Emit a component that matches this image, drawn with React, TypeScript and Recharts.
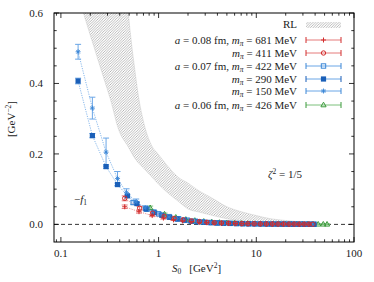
import React from "react";
import { ComposedChart, Line, Area, XAxis, YAxis, ReferenceLine, ErrorBar } from "recharts";

// RL band (hatched): lower and upper edge
const bandS0 = [0.17, 0.2, 0.24, 0.28, 0.32, 0.39, 0.49, 0.57, 0.62, 0.7, 0.85, 1.0, 1.2, 1.6, 2.0, 2.6, 3.5, 5.0, 7, 10, 14, 20, 28];
const bandLow = [0.6, 0.537, 0.467, 0.408, 0.357, 0.269, 0.22, 0.188, 0.175, 0.16, 0.135, 0.114, 0.093, 0.065, 0.044, 0.035, 0.026, 0.016, 0.01, 0.005, 0.002, 0.001, 0.0005];
const bandHigh = [2.5, 2.2, 1.9, 1.6, 1.35, 1.0, 0.6, 0.44, 0.366, 0.292, 0.223, 0.198, 0.17, 0.133, 0.117, 0.095, 0.075, 0.05, 0.036, 0.025, 0.016, 0.011, 0.007];

// a = 0.08 fm, m_pi = 681 MeV
const s681 = [0.45, 0.63, 0.86, 1.12, 1.42, 1.76, 2.15, 2.6, 3.1, 3.7, 4.4, 5.2, 6.1, 7.1, 8.2, 9.5, 11, 12.7, 14.6, 16.7, 19, 21.6, 24.4, 27.5, 30.9, 34.6];
const f681 = [0.05, 0.036, 0.025, 0.018, 0.013, 0.01, 0.008, 0.006, 0.005, 0.004, 0.0035, 0.003, 0.0025, 0.002, 0.002, 0.0015, 0.0015, 0.0012, 0.001, 0.001, 0.0008, 0.0008, 0.0007, 0.0006, 0.0006, 0.0005];
const e681 = [0.005, 0.004, 0.003, 0.003, 0.002, 0.002, 0.002, 0.0015, 0.0015, 0.001, 0.001, 0.001, 0.001, 0.001, 0.001, 0.001, 0.001, 0.001, 0.001, 0.001, 0.001, 0.001, 0.001, 0.001, 0.001, 0.001];

// m_pi = 411 MeV
const s411 = [0.45, 0.64, 0.87, 1.14, 1.44, 1.78, 2.17, 2.62, 3.12, 3.72, 4.4, 5.2, 6.1, 7.1, 8.2, 9.5, 11, 12.7, 14.6, 16.7, 19, 21.6, 24.4, 27.5, 30.9, 34.6, 38];
const f411 = [0.074, 0.046, 0.032, 0.023, 0.017, 0.013, 0.01, 0.008, 0.006, 0.005, 0.004, 0.0035, 0.003, 0.0025, 0.002, 0.002, 0.0015, 0.0013, 0.0012, 0.001, 0.001, 0.0008, 0.0008, 0.0007, 0.0006, 0.0006, 0.0005];
const e411 = [0.007, 0.005, 0.004, 0.003, 0.002, 0.002, 0.002, 0.0015, 0.0015, 0.001, 0.001, 0.001, 0.001, 0.001, 0.001, 0.001, 0.001, 0.001, 0.001, 0.001, 0.001, 0.001, 0.001, 0.001, 0.001, 0.001, 0.001];

// a = 0.07 fm, m_pi = 422 MeV
const s422 = [0.55, 0.76, 1.0, 1.28, 1.6, 1.96, 2.37, 2.83, 3.35, 3.95, 4.6, 5.4, 6.3, 7.3, 8.4, 9.7, 11.2, 12.9, 14.8, 16.9, 19.2, 21.8, 24.6, 27.7, 31, 34.8, 38.8];
const f422 = [0.062, 0.043, 0.03, 0.022, 0.016, 0.012, 0.009, 0.007, 0.0055, 0.0045, 0.0037, 0.003, 0.0025, 0.002, 0.0018, 0.0015, 0.0013, 0.0011, 0.001, 0.0009, 0.0008, 0.0007, 0.0006, 0.0006, 0.0005, 0.0005, 0.0004];
const e422 = [0.005, 0.004, 0.003, 0.002, 0.002, 0.002, 0.0015, 0.0015, 0.001, 0.001, 0.001, 0.001, 0.001, 0.001, 0.001, 0.001, 0.001, 0.001, 0.001, 0.001, 0.001, 0.001, 0.001, 0.001, 0.001, 0.001, 0.001];

// m_pi = 290 MeV
const s290 = [0.15, 0.21, 0.29, 0.38, 0.48, 0.6, 0.74, 0.9, 1.08, 1.3, 1.55, 1.83, 2.15, 2.52, 2.95, 3.45, 4.0, 4.65, 5.4, 6.25, 7.2, 8.3, 9.5, 10.9, 12.5, 14.3, 16.3, 18.6, 21.2, 24, 27.2, 30.7, 34.6, 38.9];
const f290 = [0.407, 0.252, 0.164, 0.113, 0.081, 0.059, 0.044, 0.034, 0.026, 0.02, 0.015, 0.012, 0.009, 0.0072, 0.0058, 0.0047, 0.0038, 0.0032, 0.0027, 0.0023, 0.002, 0.0017, 0.0015, 0.0013, 0.0012, 0.001, 0.0009, 0.0008, 0.0007, 0.0006, 0.0006, 0.0005, 0.0005, 0.0004];
const e290 = [0.008, 0.006, 0.005, 0.004, 0.003, 0.003, 0.002, 0.002, 0.002, 0.0015, 0.0015, 0.001, 0.001, 0.001, 0.001, 0.001, 0.001, 0.001, 0.001, 0.001, 0.001, 0.001, 0.001, 0.001, 0.001, 0.001, 0.001, 0.001, 0.001, 0.001, 0.001, 0.001, 0.001, 0.001];

// m_pi = 150 MeV
const s150 = [0.15, 0.21, 0.29, 0.38, 0.47, 0.59, 0.73, 0.89, 1.07, 1.28, 1.52, 1.8, 2.12, 2.48, 2.9, 3.4, 3.95, 4.6, 5.35, 6.2, 7.2, 8.3, 9.6, 11.1, 12.8, 14.7, 16.9, 19.4, 22.2, 25.4, 29, 33, 37.5];
const f150 = [0.49, 0.33, 0.205, 0.13, 0.09, 0.064, 0.047, 0.036, 0.027, 0.021, 0.016, 0.012, 0.0095, 0.0075, 0.006, 0.005, 0.004, 0.0033, 0.0028, 0.0024, 0.002, 0.0017, 0.0015, 0.0013, 0.0012, 0.001, 0.0009, 0.0008, 0.0007, 0.0006, 0.0006, 0.0005, 0.0005];
const e150 = [0.021, 0.031, 0.04, 0.02, 0.011, 0.008, 0.006, 0.005, 0.004, 0.003, 0.003, 0.002, 0.002, 0.002, 0.0015, 0.0015, 0.001, 0.001, 0.001, 0.001, 0.001, 0.001, 0.001, 0.001, 0.001, 0.001, 0.001, 0.001, 0.001, 0.001, 0.001, 0.001, 0.001];

// a = 0.06 fm, m_pi = 426 MeV
const s426 = [0.82, 1.15, 1.5, 1.9, 2.35, 2.9, 3.5, 4.2, 5.0, 5.95, 7.0, 8.2, 9.6, 11.2, 13, 15, 17.3, 19.9, 22.8, 26, 29.6, 33.6, 38, 43, 48.5, 53];
const f426 = [0.047, 0.029, 0.02, 0.014, 0.011, 0.0085, 0.0067, 0.0053, 0.0043, 0.0035, 0.0029, 0.0024, 0.002, 0.0017, 0.0014, 0.0012, 0.001, 0.0009, 0.0008, 0.0007, 0.0006, 0.0005, 0.0005, 0.0004, 0.0004, 0.0003];
const e426 = [0.005, 0.003, 0.002, 0.002, 0.0015, 0.0015, 0.001, 0.001, 0.001, 0.001, 0.001, 0.001, 0.001, 0.001, 0.001, 0.001, 0.001, 0.001, 0.001, 0.001, 0.001, 0.001, 0.001, 0.001, 0.001, 0.001];

const xMajor = [0.1, 1, 10, 100];
const xTicks = [0.09, 0.1, 0.2, 0.3, 0.4, 0.5, 0.6, 0.7, 0.8, 0.9, 1, 2, 3, 4, 5, 6, 7, 8, 9, 10, 20, 30, 40, 50, 60, 70, 80, 90, 100];
const yMajor = [0, 0.2, 0.4, 0.6];
const yTicks = [0, 0.05, 0.1, 0.15, 0.2, 0.25, 0.3, 0.35, 0.4, 0.45, 0.5, 0.55, 0.6];

const FONT = "'Liberation Serif', 'DejaVu Serif', serif";
const W = 374;
const H = 282;
const PL = 54;
const PR = 354;
const PT = 13;
const PB = 242;

const RED = "#d22c2c";
const RED_L = "#e57a7a";
const BLUE = "#1a5fb8";
const BLUE2 = "#3a86d6";
const BLUE_L = "#6aa6e6";
const GREEN = "#3b9a3b";
const GREEN_L = "#7cc07c";

const rows = (s: number[], f: number[], e: number[]) => s.map((x, i) => ({ s: x, v: f[i], e: e[i] }));
const bandData = bandS0.map((x, i) => ({ s: x, range: [bandLow[i], bandHigh[i]] }));

function Mark({ cx, cy, shape, color }: any) {
  if (cx == null || cy == null || isNaN(cx) || isNaN(cy)) return null;
  const r = 2.5;
  if (shape === "plus")
    return <path d={`M${cx - r},${cy}H${cx + r}M${cx},${cy - r}V${cy + r}`} stroke={color} strokeWidth={1} fill="none" />;
  if (shape === "circle") return <circle cx={cx} cy={cy} r={2.2} fill="none" stroke={color} strokeWidth={1} />;
  if (shape === "square")
    return <rect x={cx - 2.2} y={cy - 2.2} width={4.4} height={4.4} fill="none" stroke={color} strokeWidth={1} />;
  if (shape === "fsquare") return <rect x={cx - 2.6} y={cy - 2.6} width={5.2} height={5.2} fill={color} />;
  if (shape === "star")
    return (
      <path
        d={`M${cx - r},${cy}H${cx + r}M${cx},${cy - r}V${cy + r}M${cx - 1.8},${cy - 1.8}L${cx + 1.8},${cy + 1.8}M${cx - 1.8},${cy + 1.8}L${cx + 1.8},${cy - 1.8}`}
        stroke={color}
        strokeWidth={0.9}
        fill="none"
      />
    );
  return (
    <path d={`M${cx},${cy - 2.8}L${cx + 2.6},${cy + 1.8}L${cx - 2.6},${cy + 1.8}Z`} fill="none" stroke={color} strokeWidth={1} />
  );
}

function XTick(props: any) {
  const { x, y, payload } = props;
  const major = xMajor.some((m) => Math.abs(m - payload.value) < 1e-9);
  const len = major ? 5 : 2.7;
  return (
    <g>
      <line x1={x} y1={y} x2={x} y2={y - len} stroke="#000" strokeWidth={0.8} />
      <line x1={x} y1={PT} x2={x} y2={PT + len} stroke="#000" strokeWidth={0.8} />
      {major && (
        <text x={x} y={y + 15} textAnchor="middle" fontSize={11} fontFamily={FONT} fill="#222">
          {String(payload.value)}
        </text>
      )}
    </g>
  );
}

function YTick(props: any) {
  const { x, y, payload } = props;
  const major = yMajor.some((m) => Math.abs(m - payload.value) < 1e-9);
  const len = major ? 5 : 2.7;
  return (
    <g>
      <line x1={x} y1={y} x2={x + len} y2={y} stroke="#000" strokeWidth={0.8} />
      <line x1={PR} y1={y} x2={PR - len} y2={y} stroke="#000" strokeWidth={0.8} />
      {major && (
        <text x={43} y={y + 4} textAnchor="end" fontSize={11} fontFamily={FONT} fill="#222">
          {payload.value.toFixed(1)}
        </text>
      )}
    </g>
  );
}

const series = [
  { key: "426", data: rows(s426, f426, e426), shape: "triangle", color: GREEN, light: GREEN_L },
  { key: "422", data: rows(s422, f422, e422), shape: "square", color: BLUE2, light: BLUE_L },
  { key: "290", data: rows(s290, f290, e290), shape: "fsquare", color: BLUE, light: BLUE_L },
  { key: "150", data: rows(s150, f150, e150), shape: "star", color: BLUE2, light: BLUE_L },
  { key: "411", data: rows(s411, f411, e411), shape: "circle", color: RED, light: RED_L },
  { key: "681", data: rows(s681, f681, e681), shape: "plus", color: RED, light: RED_L },
];

function Pi() {
  return (
    <>
      <tspan fontStyle="italic">m</tspan>
      <tspan fontSize={7.5} fontStyle="italic" dy={2}>π</tspan>
      <tspan dy={-2}> </tspan>
    </>
  );
}

const legendRows: { y: number; a?: string; mev: string; shape: string; color: string; light: string }[] = [
  { y: 40, a: "0.08", mev: "681", shape: "plus", color: RED, light: RED_L },
  { y: 53, mev: "411", shape: "circle", color: RED, light: RED_L },
  { y: 66, a: "0.07", mev: "422", shape: "square", color: BLUE2, light: BLUE_L },
  { y: 79, mev: "290", shape: "fsquare", color: BLUE, light: BLUE_L },
  { y: 91, mev: "150", shape: "star", color: BLUE2, light: BLUE_L },
  { y: 105, a: "0.06", mev: "426", shape: "triangle", color: GREEN, light: GREEN_L },
];

export default function App() {
  return (
    <div style={{ position: "fixed", left: 0, top: 0, width: W, height: H, background: "#fff" }}>
      <svg width={0} height={0} style={{ position: "absolute" }}>
        <defs>
          <pattern id="rlHatch" patternUnits="userSpaceOnUse" width={2.6} height={2.6}>
            <rect width={2.6} height={2.6} fill="#fff" />
            <path d="M-1,1 l2,-2 M0,2.6 l2.6,-2.6 M1.6,3.6 l2,-2" stroke="#969696" strokeWidth={0.65} />
          </pattern>
        </defs>
      </svg>
      <ComposedChart width={W} height={H} margin={{ top: PT, right: W - PR, bottom: 0, left: 0 }}>
        <XAxis
          type="number"
          dataKey="s"
          scale="log"
          domain={[0.085, 100]}
          allowDataOverflow
          ticks={xTicks}
          interval={0}
          tick={<XTick />}
          tickLine={false}
          axisLine={false}
          tickSize={0}
          tickMargin={0}
          height={H - PB}
        />
        <YAxis
          type="number"
          domain={[-0.05, 0.6]}
          allowDataOverflow
          ticks={yTicks}
          interval={0}
          tick={<YTick />}
          tickLine={false}
          axisLine={false}
          tickSize={0}
          tickMargin={0}
          width={PL}
        />
        <Area
          data={bandData}
          dataKey="range"
          type="monotone"
          stroke="#c0c0c0"
          strokeWidth={0.4}
          fill="url(#rlHatch)"
          fillOpacity={1}
          isAnimationActive={false}
        />
        <ReferenceLine y={0} stroke="#000" strokeWidth={0.8} strokeDasharray="4 3" />
        {series.map((sr) => (
          <Line
            key={sr.key}
            data={sr.data}
            dataKey="v"
            stroke={sr.light}
            strokeWidth={0.8}
            strokeDasharray="1.2 1.2"
            isAnimationActive={false}
            dot={(p: any) => <Mark key={`${sr.key}-${p.index}`} cx={p.cx} cy={p.cy} shape={sr.shape} color={sr.color} />}
            activeDot={false}
          >
            <ErrorBar dataKey="e" width={3} stroke={sr.light} strokeWidth={1} direction="y" />
          </Line>
        ))}
      </ComposedChart>
      <svg width={W} height={H} style={{ position: "absolute", left: 0, top: 0, pointerEvents: "none" }} fontFamily={FONT}>
        <rect x={PL} y={PT} width={PR - PL} height={PB - PT} fill="none" stroke="#000" strokeWidth={1} />
        <text transform="rotate(-90 15 119)" x={15} y={119} textAnchor="middle" fontSize={11} fill="#222">
          [GeV<tspan dy={-4} fontSize={7.5}>−2</tspan>
          <tspan dy={4}>]</tspan>
        </text>
        <text x={172} y={272} fontSize={11} fill="#222">
          <tspan fontStyle="italic">S</tspan>
          <tspan fontSize={7.5} dy={2}>0</tspan>
          <tspan dy={-2} dx={8}>[GeV</tspan>
          <tspan fontSize={7.5} dy={-4}>2</tspan>
          <tspan dy={4}>]</tspan>
        </text>
        <text x={74} y={203} fontSize={11} fill="#222">
          −<tspan fontStyle="italic">f</tspan>
          <tspan fontSize={7.5} dy={2}>1</tspan>
        </text>
        <text x={268} y={178} fontSize={11} fill="#222">
          <tspan fontStyle="italic">ζ</tspan>
          <tspan fontSize={7.5} dy={-4}>2</tspan>
          <tspan dy={4}> = 1/5</tspan>
        </text>
        <text x={297} y={28} textAnchor="end" fontSize={11} fill="#222">RL</text>
        <rect x={306} y={22} width={35} height={6} fill="url(#rlHatch)" />
        {legendRows.map((r) => (
          <g key={r.mev}>
            <text x={297} y={r.y + 3.5} textAnchor="end" fontSize={11} fill="#222">
              {r.a && (
                <>
                  <tspan fontStyle="italic">a</tspan>
                  <tspan> = {r.a} fm, </tspan>
                </>
              )}
              <Pi />
              <tspan>= {r.mev} MeV</tspan>
            </text>
            <line x1={306} y1={r.y} x2={341} y2={r.y} stroke={r.light} strokeWidth={1} />
            <line x1={306} y1={r.y - 3} x2={306} y2={r.y + 3} stroke={r.color} strokeWidth={1} />
            <line x1={341} y1={r.y - 3} x2={341} y2={r.y + 3} stroke={r.color} strokeWidth={1} />
            <Mark cx={323.5} cy={r.y} shape={r.shape} color={r.color} />
          </g>
        ))}
      </svg>
    </div>
  );
}
